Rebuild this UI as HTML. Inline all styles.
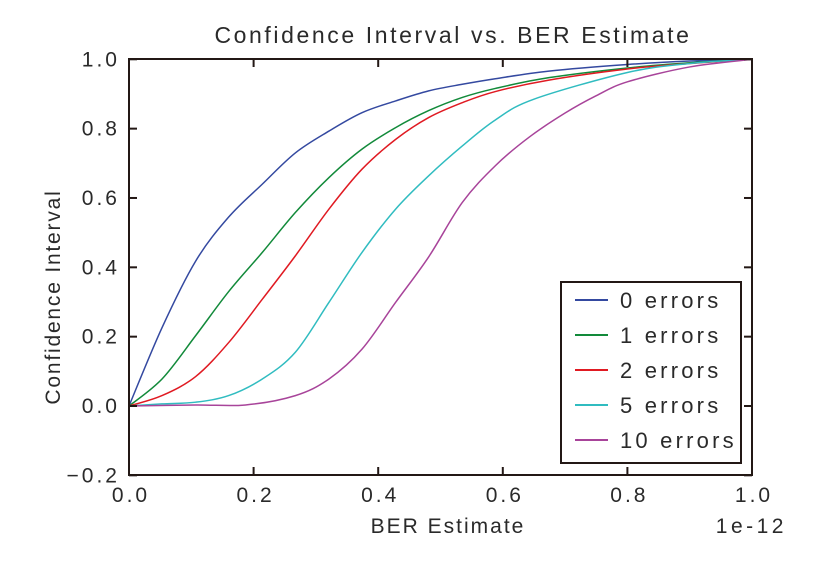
<!DOCTYPE html>
<html><head><meta charset="utf-8"><style>
body{margin:0;background:#fff;}
svg text{font-family:"Liberation Sans",sans-serif;fill:#2a2a2a;}
</style></head><body>
<svg id="s" width="835" height="556" xmlns="http://www.w3.org/2000/svg">
<rect x="0" y="0" width="835" height="556" fill="#fff"/>
<text x="453" y="43" font-size="23" letter-spacing="2.6" text-anchor="middle">Confidence Interval vs. BER Estimate</text>
<g id="curves" fill="none" stroke-width="1.5"></g>
<rect x="129" y="59" width="623" height="416" fill="none" stroke="#231815" stroke-width="2"/>
<g id="ticks" stroke="#231815" stroke-width="2"></g>
<g id="labels" font-size="21" letter-spacing="3"></g>
<text x="448" y="533" font-size="21" letter-spacing="2" text-anchor="middle">BER Estimate</text>
<text x="787" y="533" font-size="21" letter-spacing="3.5" text-anchor="end">1e-12</text>
<text transform="translate(60,297) rotate(-90)" font-size="21" letter-spacing="1.8" text-anchor="middle">Confidence Interval</text>
<rect x="561" y="282" width="180" height="181" fill="#fff" stroke="#231815" stroke-width="2"/>
<g id="leg" font-size="22" letter-spacing="3.2"></g>
</svg>
<script>
var X=function(x){return 129+623*x},Y=function(y){return 406-346.7*y};
var data=[
["#3449a0","0 errors",[[0,0],[.053,.226],[.107,.418],[.16,.545],[.214,.64],[.267,.73],[.321,.793],[.374,.846],[.428,.88],[.481,.909],[.535,.928],[.588,.944],[.674,.966],[.8,.985],[.9,.995],[1,1]]],
["#128a3a","1 errors",[[0,0],[.053,.078],[.107,.203],[.16,.33],[.214,.443],[.267,.558],[.321,.659],[.374,.741],[.428,.803],[.481,.852],[.535,.89],[.588,.916],[.674,.947],[.8,.975],[.9,.99],[1,1]]],
["#e01a22","2 errors",[[0,0],[.053,.03],[.107,.085],[.16,.183],[.214,.308],[.267,.433],[.321,.568],[.374,.683],[.428,.769],[.481,.832],[.535,.875],[.588,.907],[.674,.94],[.8,.972],[.9,.988],[1,1]]],
["#30bcc0","5 errors",[[0,0],[.053,.006],[.107,.011],[.16,.03],[.214,.078],[.267,.155],[.321,.299],[.374,.443],[.428,.568],[.481,.664],[.535,.75],[.588,.825],[.65,.885],[.8,.962],[.9,.988],[1,1]]],
["#a8449a","10 errors",[[0,0],[.107,.003],[.187,.003],[.267,.03],[.321,.078],[.374,.164],[.428,.299],[.481,.43],[.535,.587],[.588,.693],[.642,.775],[.7,.845],[.75,.895],[.8,.935],[.9,.978],[1,1]]]];
var NS="http://www.w3.org/2000/svg";
function el(p,t,a,txt){var e=document.createElementNS(NS,t);for(var k in a)e.setAttribute(k,a[k]);if(txt)e.textContent=txt;document.getElementById(p).appendChild(e);}
function spline(pts){var P=pts.map(function(p){return [X(p[0]),Y(p[1])]});var d="M"+P[0];for(var i=0;i<P.length-1;i++){var p0=P[i-1]||P[i],p1=P[i],p2=P[i+1],p3=P[i+2]||p2;d+=" C"+(p1[0]+(p2[0]-p0[0])/6)+","+(p1[1]+(p2[1]-p0[1])/6)+" "+(p2[0]-(p3[0]-p1[0])/6)+","+(p2[1]-(p3[1]-p1[1])/6)+" "+p2[0]+","+p2[1];}return d;}
data.forEach(function(s,i){el("curves","path",{d:spline(s[2]),stroke:s[0]});
var y=300+35*i;el("leg","line",{x1:575,x2:608,y1:y,y2:y,stroke:s[0],"stroke-width":2});el("leg","text",{x:620,y:y+8},s[1]);});
for(var i=0;i<=5;i++){var x=X(i*0.2);el("ticks","line",{x1:x,x2:x,y1:475,y2:467});el("ticks","line",{x1:x,x2:x,y1:59,y2:67});
el("labels","text",{x:x+2,y:502,"text-anchor":"middle"},(i*0.2).toFixed(1));}
for(var j=-1;j<=5;j++){var v=j*0.2,y=Y(v);el("ticks","line",{x1:129,x2:137,y1:y,y2:y});el("ticks","line",{x1:752,x2:744,y1:y,y2:y});
el("labels","text",{x:120,y:y+7,"text-anchor":"end"},(v<0?"\u22120.2":v.toFixed(1)));}
</script>
</body></html>
